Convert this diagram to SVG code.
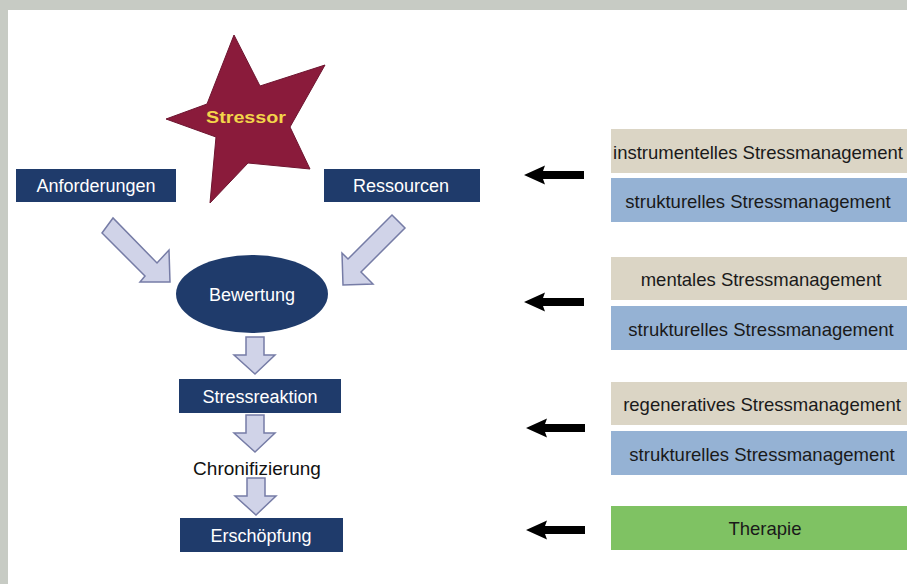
<svg xmlns="http://www.w3.org/2000/svg" width="907" height="584" viewBox="0 0 907 584">
<style>
.nav{fill:#1f3b6b}
.wt{fill:#ffffff;font-family:"Liberation Sans",Arial,sans-serif;font-size:18px;text-anchor:middle}
.bt{fill:#1a1a1a;font-family:"Liberation Sans",Arial,sans-serif;font-size:18.5px;text-anchor:middle}
.blk{fill:#d0d3e8;stroke:#767ca6;stroke-width:1.5;stroke-linejoin:miter}
.tan{fill:#dbd5c5}
.blu{fill:#95b2d4}
.grn{fill:#7fc263}
.ar{fill:#000000}
</style>
<rect x="0" y="0" width="907" height="584" fill="#c7cbc4"/>
<rect x="8" y="10" width="899" height="574" fill="#ffffff"/>

<g id="stressor">
<polygon points="234,35 260,86 325,65 290,127 310,169 248,163 210,203 216,137 166,119 207,104" fill="#8a1b3b" stroke="#6e1530" stroke-width="1"/>
<text x="246" y="123" font-family="Liberation Sans,Arial,sans-serif" font-weight="bold" font-size="17" fill="#f3d54a" text-anchor="middle" textLength="80" lengthAdjust="spacingAndGlyphs">Stressor</text>
</g>

<g id="anforderungen">
<rect class="nav" x="16" y="169" width="160" height="33"/>
<text class="wt" x="96" y="192">Anforderungen</text>
</g>

<g id="ressourcen">
<rect class="nav" x="324" y="169" width="156" height="33"/>
<text class="wt" x="401" y="192">Ressourcen</text>
</g>

<g id="bewertung">
<ellipse class="nav" cx="252" cy="294" rx="76" ry="39"/>
<text class="wt" x="252" y="301">Bewertung</text>
</g>

<g id="stressreaktion">
<rect class="nav" x="179" y="379" width="162" height="34"/>
<text class="wt" x="260" y="403">Stressreaktion</text>
</g>

<g id="chronifizierung">
<text x="257" y="475" font-family="Liberation Sans,Arial,sans-serif" font-size="19" fill="#111111" text-anchor="middle">Chronifizierung</text>
</g>

<g id="erschoepfung">
<rect class="nav" x="180" y="518" width="163" height="34"/>
<text class="wt" x="261" y="542">Erschöpfung</text>
</g>

<g id="instrumentelles">
<rect class="tan" x="611" y="129" width="296" height="44"/>
<text class="bt" x="758" y="159">instrumentelles Stressmanagement</text>
</g>
<g id="strukturelles1">
<rect class="blu" x="611" y="178" width="296" height="44"/>
<text class="bt" x="758" y="208">strukturelles Stressmanagement</text>
</g>
<g id="mentales">
<rect class="tan" x="611" y="257" width="296" height="43"/>
<text class="bt" x="761" y="286">mentales Stressmanagement</text>
</g>
<g id="strukturelles2">
<rect class="blu" x="611" y="306" width="296" height="44"/>
<text class="bt" x="761" y="336">strukturelles Stressmanagement</text>
</g>
<g id="regeneratives">
<rect class="tan" x="611" y="382" width="296" height="43"/>
<text class="bt" x="762" y="411">regeneratives Stressmanagement</text>
</g>
<g id="strukturelles3">
<rect class="blu" x="611" y="431" width="296" height="44"/>
<text class="bt" x="762" y="461">strukturelles Stressmanagement</text>
</g>
<g id="therapie">
<rect class="grn" x="611" y="506" width="296" height="44"/>
<text class="bt" x="765" y="535">Therapie</text>
</g>

<g id="connectors">
<polygon class="blk" points="102,233 113,218 157,263 169,250 170,282 140,282 145,276"/>
<polygon class="blk" points="392,215 405,228 361,272 373,284 343,285 342,253 348,259"/>
<polygon class="blk" points="246,337 264,337 264,355 275,355 255,374 234,355 246,355"/>
<polygon class="blk" points="246,415 264,415 264,433 275,433 255,452 234,433 246,433"/>
<polygon class="blk" points="247,478 265,478 265,496 276,496 256,515 235,496 247,496"/>
<polygon class="ar" points="524,175 545,165.5 543,171 584,171 584,179 543,179 545,184.5"/>
<polygon class="ar" points="524,302 545,292.5 543,298 584,298 584,306 543,306 545,311.5"/>
<polygon class="ar" points="526,428 547,418.5 545,424 585,424 585,432 545,432 547,437.5"/>
<polygon class="ar" points="526,530 547,520.5 545,526 585,526 585,534 545,534 547,539.5"/>
</g>
</svg>
